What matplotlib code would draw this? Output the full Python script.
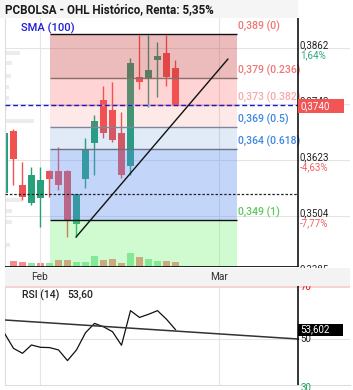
import matplotlib
matplotlib.use("Agg")
import matplotlib.pyplot as plt
from matplotlib.patches import Rectangle

# ---- data --------------------------------------------------------------
opens  = [0.3553, 0.3685, 0.3570, 0.3532, 0.3542, 0.3600, 0.3600, 0.3600, 0.3487, 0.3583,
          0.3659, 0.3751, 0.3729, 0.3680, 0.3610, 0.3799, 0.3797, 0.3836, 0.3850, 0.3819]
highs  = [0.3684, 0.3689, 0.3619, 0.3608, 0.3608, 0.3601, 0.3651, 0.3601, 0.3551, 0.3670,
          0.3719, 0.3780, 0.3789, 0.3725, 0.3840, 0.3889, 0.3889, 0.3874, 0.3889, 0.3836]
lows   = [0.3550, 0.3570, 0.3538, 0.3527, 0.3481, 0.3544, 0.3559, 0.3459, 0.3459, 0.3564,
          0.3591, 0.3670, 0.3661, 0.3585, 0.3591, 0.3774, 0.3736, 0.3757, 0.3780, 0.3740]
closes = [0.3680, 0.3625, 0.3544, 0.3591, 0.3581, 0.3583, 0.3570, 0.3496, 0.3551, 0.3646,
          0.3706, 0.3680, 0.3666, 0.3591, 0.3829, 0.3789, 0.3814, 0.3844, 0.3799, 0.3740]
volume = [0, 60, 50, 40, 40, 40, 70, 70, 50, 50, 110, 70, 80, 40, 140, 100, 80, 60, 60, 50]
vol_up = [1, 0, 0, 1, 0, 1, 0, 0, 1, 1, 1, 0, 0, 0, 1, 0, 1, 1, 0, 0]
rsi    = [52.2, 46.4, 44.5, 47.7, 46.8, 46.7, 45.8, 41.7, 45.8, 52.4,
          56.0, 54.7, 52.8, 47.6, 60.9, 58.3, 59.5, 60.9, 57.6, 53.6]
rsi_last = 53.602

# faint volume-by-price bars on the left
prof_price = [0.3850, 0.3829, 0.3802, 0.3778, 0.3755, 0.3731, 0.3706, 0.3538, 0.3515, 0.3491, 0.3442]
prof_vol   = [15, 7, 6, 4, 4, 2, 29, 17, 7, 7, 5]

fib_ratios = [0, 0.236, 0.382, 0.5, 0.618, 1]
fib_hi, fib_lo = 0.3890, 0.3496
fib_labels = ["0,389 (0)", "0,379 (0.236)", "0,373 (0.382)", "0,369 (0.5)", "0,364 (0.618)", "0,349 (1)"]
fib_start, fib_end = 5.06, 25.83

trend_x, trend_y = [7.94, 24.83], [0.3459, 0.38376]
rsi_trend_x, rsi_trend_y = [0.06, 32.61], [57.3, 50.0]

prev_close = 0.3551
last_close = 0.3740
price_ticks = [0.3385, 0.3504, 0.3623, 0.3743, 0.3862]
price_pct   = ["", "-7,77%", "-4,63%", "", "1,64%"]
month_pos   = [3.94, 23.83]
month_lab   = ["Feb", "Mar"]

# ---- layout (pixels of a 353x390 canvas) --------------------------------
W, H = 353, 390
XL = (0.056, 38.39)          # index range covering x = 5 .. 350 px
XR = 32.61                   # right price scale line (x = 298 px)
YL = (0.33956, 0.39247)      # price range covering y = 267 .. 18 px
RL = (32.31, 70.38)          # rsi range covering y = 385 .. 286 px
PX = 0.0002125               # price per pixel

RED, GREEN = "#f05252", "#27a17a"
RED_VOL, GREEN_VOL = "#f78c8c", "#8fe6aa"

plt.rcParams.update({"font.family": ["Roboto", "DejaVu Sans"], "font.size": 7})

fig = plt.figure(figsize=(W / 100, H / 100), dpi=100)
fig.patches.append(Rectangle((0, 1 - 18 / H), 298 / W, 18 / H, transform=fig.transFigure,
                             facecolor="#f5f5f5", edgecolor="none", zorder=0))

rect_main = [5 / W, (H - 267) / H, 345 / W, 249 / H]
axv = fig.add_axes(rect_main)
ax = fig.add_axes(rect_main)
axr = fig.add_axes([5 / W, (H - 385) / H, 345 / W, 99 / H])
axs = fig.add_axes([5 / W, (H - 286) / H, 345 / W, 18 / H])

x = list(range(len(opens)))

# volume (bottom layer)
axv.bar(x, volume, width=0.78, color=[GREEN_VOL if u else RED_VOL for u in vol_up], zorder=2)
axv.set_xlim(*XL)
axv.set_ylim(0, 2490)
axv.axis("off")

# price panel
ax.set_facecolor("none")
ax.set_xlim(*XL)
ax.set_ylim(*YL)
for s in ["top", "right", "bottom"]:
    ax.spines[s].set_visible(False)
ax.spines["left"].set_color("#dddddd")
ax.set_xticks([])
ax.set_yticks([])

for t in price_ticks[1:]:
    ax.axhline(t, color="#e4e4e4", lw=0.8, zorder=0.5)
for m in month_pos:
    ax.axvline(m, color="#e4e4e4", lw=0.8, zorder=0.5)

ax.barh(prof_price, [v / 9 for v in prof_vol], height=0.0009, left=XL[0],
        color="#ececec", zorder=0.8)

for i in x:
    up = closes[i] >= opens[i]
    c = GREEN if up else RED
    ax.vlines(i, lows[i], highs[i], color=c, lw=1, zorder=2)
    ax.bar(i, abs(closes[i] - opens[i]), bottom=min(opens[i], closes[i]),
           width=0.78, color=c, zorder=2.1)

# fibonacci zones drawn over the candles
levels = [fib_hi - r * (fib_hi - fib_lo) for r in fib_ratios]
zone_cols = [(0.78, 0.2, 0.2, 0.33), (1.0, 0.33, 0.33, 0.25), (0.98, 0.3, 0.3, 0.12),
             (0.22, 0.48, 0.82, 0.15), (0.33, 0.55, 0.95, 0.35)]
for k, col in enumerate(zone_cols):
    ax.fill_between([fib_start, fib_end], levels[k + 1], levels[k], color=col, lw=0, zorder=3)
ax.fill_between([fib_start, fib_end], YL[0], levels[-1], color=(0.4, 0.94, 0.4, 0.3), lw=0, zorder=3)

line_cols = ["#111111", "#8a6d6d", "#e8a0a0", "#7b879c", "#6b7280", "#111111"]
lab_cols = ["#f07575", "#f07575", "#f8a8a8", "#3d87e0", "#3d87e0", "#5cc85c"]
for lv, lc, lab, tc in zip(levels, line_cols, fib_labels, lab_cols):
    ax.hlines(lv, fib_start, fib_end, color=lc, lw=1, zorder=4)
    ax.annotate(lab, (fib_end + 0.1, lv), xytext=(0, 1.5), textcoords="offset points",
                ha="left", va="bottom", color=tc, fontsize=7.5, fontweight="medium", zorder=6)

ax.hlines(prev_close, XL[0], XR, color="#222222", lw=0.9, linestyles=(0, (2, 1.5)), zorder=4.5)
ax.hlines(last_close, XL[0], XR, color="#1a1acc", lw=1, linestyles=(0, (3.5, 2)), zorder=4.5)
ax.plot(trend_x, trend_y, color="#111111", lw=1, zorder=5, solid_capstyle="round")

# right price scale
ax.vlines(XR, YL[0], YL[1], color="black", lw=1.1, zorder=6)
ax.hlines(YL[0], XL[0], XR, color="black", lw=1.2, zorder=6)
for t, p in zip(price_ticks, price_pct):
    ax.text(XR + 0.2, t - 2.2 * PX, f"{t:.4f}".replace(".", ","), ha="left", va="bottom",
            color="#222222", fontsize=7, zorder=6, clip_on=False)
    if p:
        ax.text(XR + 0.2, t - 2.2 * PX, p, ha="left", va="top", fontsize=7, zorder=6,
                color="#2aa87a" if not p.startswith("-") else "#f06060", clip_on=False)
ax.add_patch(Rectangle((XR, last_close - 8 * PX), 46 / 9, 14 * PX, facecolor="#f25555",
                       edgecolor="none", zorder=7, clip_on=False))
ax.text(XR + 0.25, last_close - 1 * PX, f"{last_close:.4f}".replace(".", ","), ha="left",
        va="center", color="white", fontsize=7, zorder=8)

fig.text(5 / W, 1 - 10 / H, "PCBOLSA - OHL Histórico, Renta: 5,35%", ha="left", va="center",
         fontsize=8.4, fontweight="bold", color="#1a1a1a")
fig.text(21 / W, 1 - 28 / H, "SMA (100)", ha="left", va="center", fontsize=8,
         fontweight="medium", color="#1f1fd6")

# date strip
axs.set_facecolor("#f3f3f3")
axs.set_xlim(*XL)
axs.set_ylim(0, 1)
for s in axs.spines.values():
    s.set_visible(False)
axs.set_xticks([])
axs.set_yticks([])
for m, lab in zip(month_pos, month_lab):
    axs.text(m, 0.5, lab, ha="center", va="center", fontsize=7.3, color="#333333")

# RSI panel
axr.set_xlim(*XL)
axr.set_ylim(*RL)
for s in ["top", "right"]:
    axr.spines[s].set_visible(False)
axr.spines["left"].set_color("#dddddd")
axr.spines["bottom"].set_color("#dddddd")
axr.set_xticks([])
axr.set_yticks([])
axr.hlines(50, XL[0], XL[1], color="#e4e4e4", lw=0.8, zorder=0.5)
axr.axhline(70, color="#f6c9c9", lw=1.2, zorder=0.5)
for m in month_pos:
    axr.axvline(m, color="#e4e4e4", lw=0.8, zorder=0.5)
axr.plot(x, rsi, color="#111111", lw=0.9, zorder=3)
axr.plot(rsi_trend_x, rsi_trend_y, color="#333333", lw=1.1, zorder=3)
axr.vlines(XR, RL[0], RL[1], color="black", lw=1.1, zorder=4)
axr.text(XR + 0.25, 70, "70", color="#e01010", fontsize=7, va="center", clip_on=False)
axr.text(XR + 0.25, 50, "50", color="#222222", fontsize=7, va="center", clip_on=False)
axr.text(XR + 0.25, 31.0, "30", color="#20a060", fontsize=7, va="center", clip_on=False)
axr.add_patch(Rectangle((XR, rsi_last - 2.3), 45 / 9, 4.6, facecolor="black",
                        edgecolor="none", zorder=5, clip_on=False))
axr.text(XR + 0.25, rsi_last, f"{rsi_last:.3f}".replace(".", ","), color="white", fontsize=7,
         va="center", zorder=6)
axr.text(1.9, 67.0, "RSI (14)", fontsize=7.5, fontweight="medium", color="#222222", va="center")
axr.text(7.0, 67.0, f"{rsi[-1]:.2f}".replace(".", ","), fontsize=7.5, fontweight="medium",
         color="#222222", va="center")

fig.savefig("out.png", dpi=100)
